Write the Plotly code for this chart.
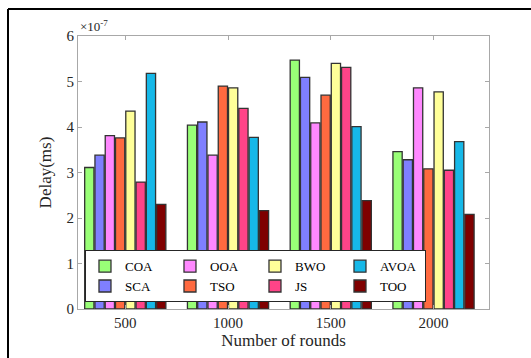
import plotly.graph_objects as go

# values are in units of 1e-7 ms (axis shows "×10^-7")
rounds = ["500", "1000", "1500", "2000"]
x_pos = [1, 2, 3, 4]
algorithms = ["COA", "SCA", "OOA", "TSO", "BWO", "JS", "AVOA", "TOO"]
COA = [3.11, 4.04, 5.47, 3.46]
SCA = [3.38, 4.11, 5.09, 3.28]
OOA = [3.81, 3.38, 4.09, 4.86]
TSO = [3.76, 4.90, 4.70, 3.08]
BWO = [4.35, 4.86, 5.40, 4.77]
JS = [2.79, 4.41, 5.31, 3.05]
AVOA = [5.18, 3.77, 4.01, 3.68]
TOO = [2.30, 2.16, 2.38, 2.08]
series = [COA, SCA, OOA, TSO, BWO, JS, AVOA, TOO]
colors = ["#99FF77", "#7F7FFF", "#FF88FF", "#FF6A40", "#FFFF99", "#FF4488", "#16B8E8", "#7F0000"]
legend_cols = ["c1", "c1", "c2", "c2", "c3", "c3", "c4", "c4"]
y_ticks = [0, 1, 2, 3, 4, 5, 6]

W, H = 531, 358
L, R, T, B = 78, 42, 36, 49
pw, ph = W - L - R, H - T - B

fig = go.Figure()
for name, vals, col, grp in zip(algorithms, series, colors, legend_cols):
    fig.add_trace(go.Bar(
        x=x_pos, y=vals, name=name, legendgroup=grp,
        marker=dict(color=col, line=dict(color="#333333", width=1.3)),
    ))

font = "Liberation Serif"
axis_common = dict(
    showline=True, linecolor="#a8a8a8", linewidth=1, mirror="ticks",
    ticks="inside", ticklen=4, tickcolor="#a8a8a8", showgrid=False, zeroline=False,
    tickfont=dict(family=font, size=15, color="#262626"),
)
fig.update_layout(
    width=W, height=H,
    margin=dict(l=L, r=R, t=T, b=B),
    paper_bgcolor="white", plot_bgcolor="white",
    font=dict(family=font),
    barmode="group", bargap=0.2, bargroupgap=0.1,
    xaxis=dict(range=[0.54, 4.54], tickvals=x_pos, ticktext=rounds,
               title=dict(text="Number of rounds", font=dict(family=font, size=17, color="#262626"), standoff=2),
               **axis_common),
    yaxis=dict(range=[0, 6], tickvals=y_ticks, ticktext=[str(v) for v in y_ticks],
               title=dict(text="Delay(ms)", font=dict(family=font, size=17, color="#262626"), standoff=10),
               **axis_common),
    legend=dict(orientation="h", x=0.017, y=0.025, xanchor="left", yanchor="bottom",
                bgcolor="white", bordercolor="#262626", borderwidth=1,
                font=dict(family=font, size=13, color="#000000"),
                traceorder="grouped", tracegroupgap=6, itemwidth=30, entrywidth=40),
    showlegend=True,
)
fig.add_annotation(text="×10<sup>-7</sup>", xref="paper", yref="paper", x=0.0, y=1.0,
                   xanchor="left", yanchor="bottom", showarrow=False,
                   font=dict(family=font, size=13, color="#262626"))
# outer black frame (left and top edges visible in the reference)
fx = (8 - L) / pw
fy_top = (H - B - 9) / ph
fy_bot = (H - B - H) / ph
fig.add_shape(type="line", xref="paper", yref="paper", x0=fx, x1=(W - L) / pw, y0=fy_top, y1=fy_top,
              line=dict(color="black", width=2))
fig.add_shape(type="line", xref="paper", yref="paper", x0=fx, x1=fx, y0=fy_top, y1=fy_bot,
              line=dict(color="black", width=2))

fig.write_html("out.html")
